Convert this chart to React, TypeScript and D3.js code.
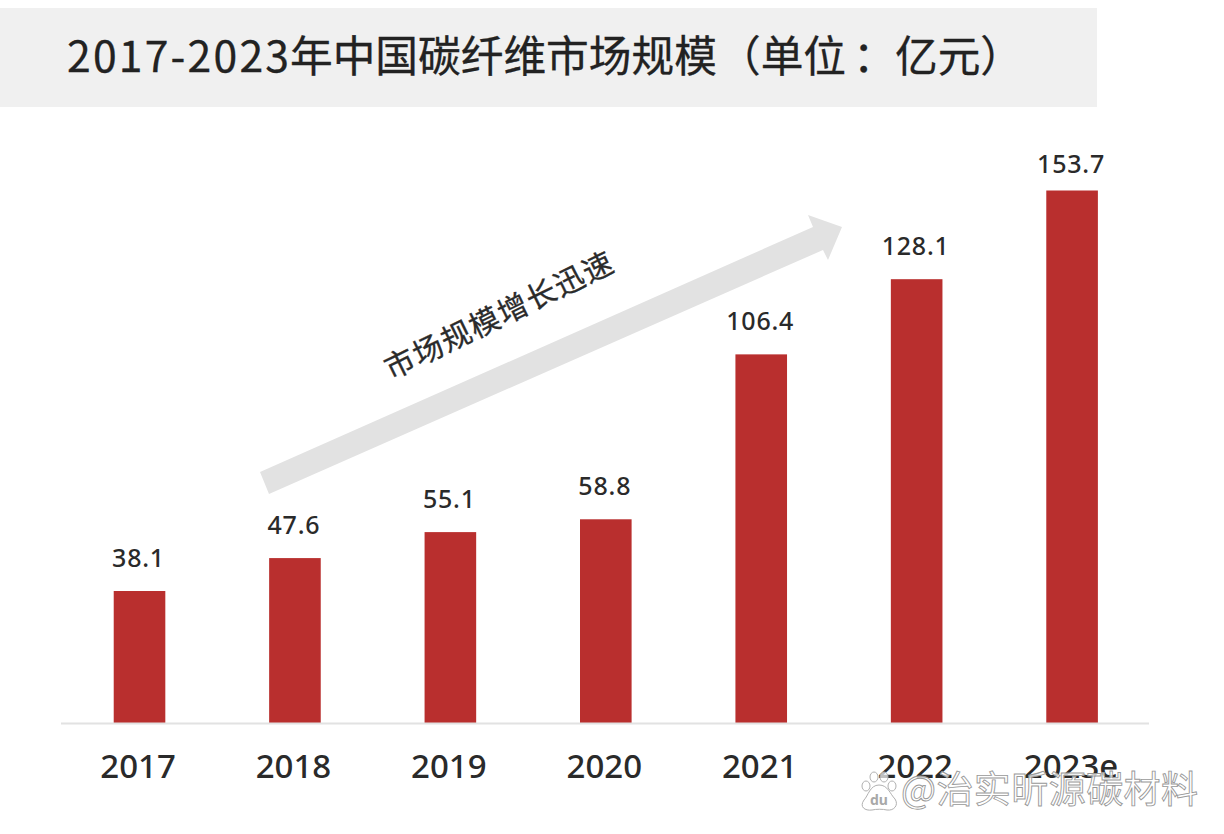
import React from "react";
import * as d3 from "d3";

const years = ["2017", "2018", "2019", "2020", "2021", "2022", "2023e"];
const marketSize = [38.1, 47.6, 55.1, 58.8, 106.4, 128.1, 153.7];
const valueLabels = ["38.1", "47.6", "55.1", "58.8", "106.4", "128.1", "153.7"];
const titleYears = "2017-2023";
const titleMain = "年中国碳纤维市场规模";
const titleUnitOpen = "（单位";
const titleColon = "：";
const titleUnit = "亿元）";
const arrowText = "市场规模增长迅速";
const watermarkText = "@治实昕源碳材料";

const W = 1224, H = 834;
const baseY = 723, axisL = 61, axisR = 1149;
const BAR = "#b92f2e";
const latin = "'Noto Sans','Open Sans',sans-serif";
const cjk = "'Noto Sans CJK SC','Noto Sans',sans-serif";

const x = d3.scaleBand<string>().domain(years).range([axisL + 0.8, axisR + 0.8]).paddingInner(0.668).paddingOuter(0.334);
const y = d3.scaleLinear().domain([0, 153.7]).range([baseY, 190.5]);

const arrowPts: [number, number][] = [
  [260, 472], [813, 227], [808, 215], [842, 227], [828, 260], [823, 250], [269, 494],
];
const pawToes: [number, number, number, number][] = [
  [866, 786, 4, 5], [874, 777, 4, 5], [884, 777, 4, 5], [892, 786, 4, 5],
];

export default function App() {
  const arrow = d3.line()(arrowPts) + "Z";
  return (
    <svg width={W} height={H} viewBox={`0 0 ${W} ${H}`} style={{ position: "absolute", left: 0, top: 0, display: "block", background: "#fff" }}>
      <rect x={0} y={8} width={1097} height={99} fill="#f0f0f0" />
      <text y={72} fontFamily={cjk} fontSize={42.7} fill="#222" stroke="#222" strokeWidth={0.3}>
        <tspan x={67} textLength={222} lengthAdjust="spacing">{titleYears}</tspan>
        <tspan x={290}>{titleMain}</tspan>
        <tspan x={718}>{titleUnitOpen}</tspan>
        <tspan x={853}>{titleColon}</tspan>
        <tspan x={895}>{titleUnit}</tspan>
      </text>

      <path d={arrow} fill="#e2e2e2" />
      <text transform="translate(391,380) rotate(-26)" fontFamily={cjk} fontSize={30} fill="#2b2b2b" stroke="#2b2b2b" strokeWidth={0.3} textLength={250}>{arrowText}</text>

      {years.map((c, i) => (
        <g key={c}>
          <rect x={x(c)} y={y(marketSize[i])} width={x.bandwidth()} height={baseY - y(marketSize[i])} fill={BAR} />
          <text x={x(c)! + x.bandwidth() / 2 - 1} y={y(marketSize[i]) - (i === years.length - 1 ? 18 : 24)} textAnchor="middle" fontFamily={latin} fontSize={25} fontWeight={500} fill="#2a2a2a" letterSpacing={0.8}>{valueLabels[i]}</text>
          <text x={x(c)! + x.bandwidth() / 2 - (c.length > 4 ? 1 : 1.5)} y={778} textAnchor="middle" fontFamily={latin} fontSize={33} fontWeight={500} fill="#2a2a2a">{c}</text>
        </g>
      ))}
      <line x1={axisL} x2={axisR} y1={baseY + 0.5} y2={baseY + 0.5} stroke="#e2e2e2" strokeWidth={2} />

      <g fill="rgba(255,255,255,0.7)" stroke="#b0b0b0" strokeWidth={1}>
        {pawToes.map(([cx, cy, rx, ry], i) => <ellipse key={i} cx={cx} cy={cy} rx={rx} ry={ry} />)}
        <path d="M879,785 C870,785 868,796 864,800 C859,807 865,811 872,810 C876,809 883,809 887,810 C894,811 899,805 895,799 C890,794 888,785 879,785Z" />
      </g>
      <text x={879} y={805} textAnchor="middle" fontFamily={latin} fontSize={14} fontWeight={700} fill="#a8a8a8">du</text>
      <text x={901} y={803} fontFamily={cjk} fontSize={37} fill="rgba(255,255,255,0.75)" stroke="#989898" strokeWidth={0.9} textLength={297}>{watermarkText}</text>
    </svg>
  );
}
